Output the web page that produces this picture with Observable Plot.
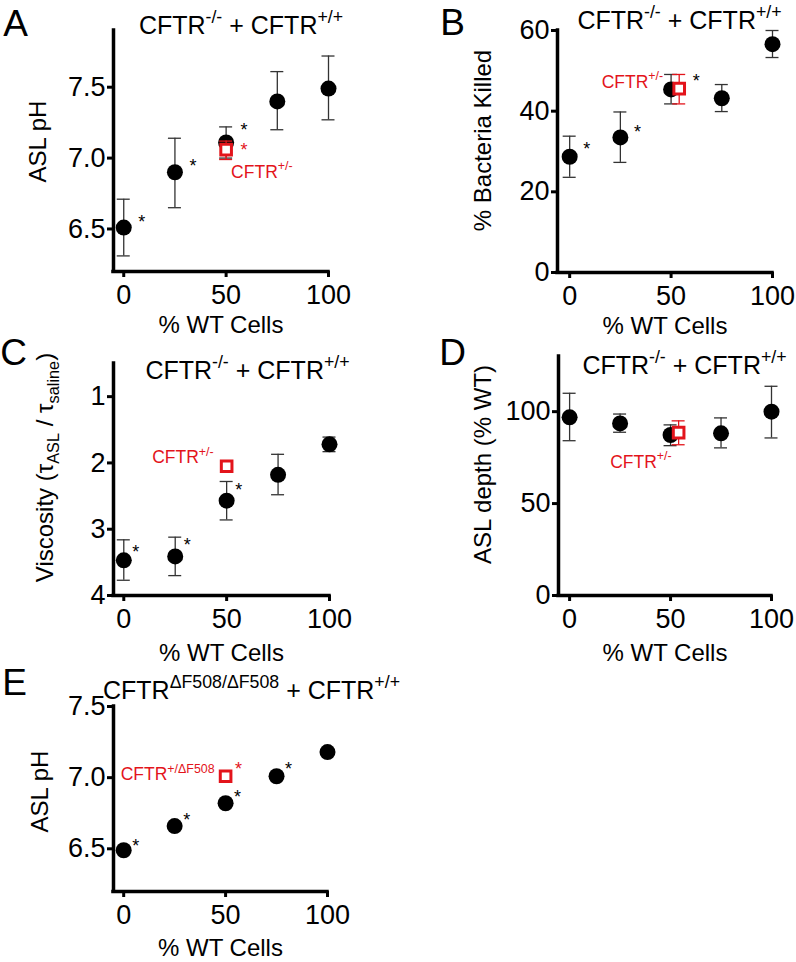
<!DOCTYPE html>
<html><head><meta charset="utf-8">
<script src="https://cdn.jsdelivr.net/npm/d3@7"></script>
<script src="https://cdn.jsdelivr.net/npm/@observablehq/plot@0.6"></script>
<style>
body{margin:0;background:#fff;}
#fig{position:relative;width:796px;height:962px;overflow:hidden;background:#fff;}
</style>
</head><body><div id="fig"></div>
<script>
// ---------- data ----------
const pctWT = [0, 25, 50, 75, 100];
const xTickVals = [0, 50, 100];
const xLabel = "% WT Cells";
const titleNull = "CFTR^{-/-} + CFTR^{+/+}";
const titleDF = "CFTR^{ΔF508/ΔF508} + CFTR^{+/+}";
const hetLabel = "CFTR^{+/-}";
const hetDFLabel = "CFTR^{+/ΔF508}";

// A: ASL pH
const aMean = [6.51, 6.90, 7.11, 7.40, 7.49];
const aLo   = [6.31, 6.65, 7.00, 7.20, 7.27];
const aHi   = [6.71, 7.14, 7.22, 7.61, 7.72];
const aStar = [true, true, true, false, false];
const aHetX = [50], aHetMean = [7.06], aHetLo = [6.99], aHetHi = [7.12];
const aYTicks = [6.5, 7.0, 7.5];

// B: % bacteria killed
const bMean = [28.7, 33.5, 45.4, 43.2, 56.6];
const bLo   = [23.6, 27.3, 41.8, 39.9, 53.3];
const bHi   = [33.8, 39.8, 49.1, 46.6, 60.0];
const bStar = [true, true, false, false, false];
const bHetX = [54], bHetMean = [45.6], bHetLo = [41.8], bHetHi = [49.1];
const bYTicks = [0, 20, 40, 60];

// C: viscosity
const cMean = [3.47, 3.41, 2.57, 2.18, 1.72];
const cLo   = [3.77, 3.70, 2.86, 2.48, 1.83];
const cHi   = [3.16, 3.12, 2.28, 1.87, 1.61];
const cStar = [true, true, true, false, false];
const cHetX = [50], cHetMean = [2.05];
const cYTicks = [1, 2, 3, 4];

// D: ASL depth
const dMean = [96.9, 93.6, 87.3, 88.2, 100.0];
const dLo   = [84.2, 88.8, 81.5, 80.3, 85.7];
const dHi   = [110.0, 98.7, 92.8, 96.6, 113.8];
const dHetX = [54], dHetMean = [88.6], dHetLo = [82.0], dHetHi = [95.0];
const dYTicks = [0, 50, 100];

// E: ASL pH, ΔF508
const eMean = [6.49, 6.66, 6.82, 7.01, 7.18];
const eStar = [true, true, true, true, false];
const eHetX = [50], eHetMean = [7.01];
const eYTicks = [6.5, 7.0, 7.5];

// ---------- styling ----------
const FONT = "'Liberation Sans', Arial, Helvetica, sans-serif";
const RED = "#e3141b";
const BAR = "#333";

function richify(svg) {
  d3.select(svg).selectAll("text").each(function () {
    const s = this.textContent;
    if (!/[\^_]\{/.test(s)) return;
    const fs = parseFloat(getComputedStyle(this).fontSize) || 16;
    const parts = s.split(/([\^_]\{[^}]*\})/).filter(p => p.length);
    while (this.firstChild) this.removeChild(this.firstChild);
    let cur = 0;
    for (const p of parts) {
      const t = document.createElementNS("http://www.w3.org/2000/svg", "tspan");
      let target = 0, content = p, size = fs;
      if (p.startsWith("^{")) { target = -0.42 * fs; content = p.slice(2, -1); size = 0.71 * fs; }
      else if (p.startsWith("_{")) { target = 0.26 * fs; content = p.slice(2, -1); size = 0.68 * fs; }
      t.setAttribute("dy", target - cur);
      t.setAttribute("font-size", size);
      t.textContent = content;
      cur = target;
      this.appendChild(t);
    }
  });
}

function build(cfg) {
  const rows = cfg.x.map((x, i) => ({x, y: cfg.mean[i], lo: cfg.lo ? cfg.lo[i] : null, hi: cfg.hi ? cfg.hi[i] : null, star: cfg.star ? cfg.star[i] : false, i}));
  const het = cfg.hetX.map((x, i) => ({x, y: cfg.hetMean[i], lo: cfg.hetLo ? cfg.hetLo[i] : null, hi: cfg.hetHi ? cfg.hetHi[i] : null}));
  const yBase = cfg.yReverse ? cfg.yDomain[1] : cfg.yDomain[0];
  const marks = [
    Plot.ruleX([cfg.xDomain[0]], {stroke: "black", strokeWidth: 3.5, strokeLinecap: "square"}),
    Plot.ruleY([yBase], {stroke: "black", strokeWidth: 3.5, strokeLinecap: "square"}),
    Plot.axisX({ticks: xTickVals, tickSize: 6, tickPadding: 7, strokeWidth: 3, fontSize: 27, label: null}),
    Plot.axisY({ticks: cfg.yTicks, tickSize: 6, tickPadding: 2, strokeWidth: 3, fontSize: 27, label: null, tickFormat: cfg.yFormat})
  ];
  if (cfg.lo) {
    marks.push(
      Plot.ruleX(rows, {x: "x", y1: "lo", y2: "hi", stroke: BAR, strokeWidth: 1.3}),
      Plot.ruleY(rows, {y: "hi", x1: "x", x2: "x", insetLeft: -6.5, insetRight: -6.5, stroke: BAR, strokeWidth: 1.3}),
      Plot.ruleY(rows, {y: "lo", x1: "x", x2: "x", insetLeft: -6.5, insetRight: -6.5, stroke: BAR, strokeWidth: 1.3})
    );
  }
  marks.push(Plot.dot(rows, {x: "x", y: "y", r: 8, fill: "black", stroke: "none"}));
  if (cfg.hetLo) {
    marks.push(
      Plot.ruleX(het, {x: "x", y1: "lo", y2: "hi", stroke: RED, strokeWidth: 1.3}),
      Plot.ruleY(het, {y: "hi", x1: "x", x2: "x", insetLeft: -6.5, insetRight: -6.5, stroke: RED, strokeWidth: 1.3}),
      Plot.ruleY(het, {y: "lo", x1: "x", x2: "x", insetLeft: -6.5, insetRight: -6.5, stroke: RED, strokeWidth: 1.3})
    );
  }
  marks.push(Plot.dot(het, {x: "x", y: "y", symbol: "square", r: 6, stroke: RED, strokeWidth: 3, fill: "white"}));
  // significance stars
  rows.filter(d => d.star).forEach((d, k) => {
    marks.push(Plot.text([d], {x: "x", y: "y", text: () => "*", dx: cfg.starDx, dy: cfg.starDy[k], fontSize: 18, lineAnchor: "bottom", textAnchor: "middle", fill: "black"}));
  });
  if (cfg.hetStar) {
    marks.push(Plot.text(het, {x: "x", y: "y", text: () => "*", dx: cfg.hetStar.dx, dy: cfg.hetStar.dy, fontSize: 18, lineAnchor: "bottom", textAnchor: "middle", fill: cfg.hetStar.color}));
  }
  // het label
  marks.push(Plot.text(het, {x: "x", y: "y", text: () => cfg.hetText, dx: cfg.hetLab.dx, dy: cfg.hetLab.dy, textAnchor: cfg.hetLab.anchor, lineAnchor: "bottom", fontSize: 17.5, fill: RED}));
  // title, panel letter, axis labels
  marks.push(
    Plot.text([cfg.title], {text: d => d, frameAnchor: "top", dx: cfg.titlePos.dx, dy: cfg.titlePos.dy, lineAnchor: "bottom", textAnchor: "middle", fontSize: 25, fill: "black"}),
    Plot.text([cfg.letter], {text: d => d, frameAnchor: "top-left", dx: cfg.letterPos.dx, dy: cfg.letterPos.dy, lineAnchor: "bottom", textAnchor: "middle", fontSize: 37, fill: "black"}),
    Plot.text([xLabel], {text: d => d, frameAnchor: "bottom", dy: cfg.xlabDy, lineAnchor: "bottom", textAnchor: "middle", fontSize: 24, fill: "black"}),
    Plot.text([cfg.ylabel], {text: d => d, frameAnchor: "left", dx: cfg.ylabPos.dx, dy: cfg.ylabPos.dy, rotate: -90, lineAnchor: "middle", textAnchor: "middle", fontSize: 24, fill: "black"})
  );
  const svg = Plot.plot({
    width: cfg.width, height: cfg.height,
    marginLeft: cfg.mL, marginRight: cfg.mR, marginTop: cfg.mT, marginBottom: cfg.mB,
    x: {domain: cfg.xDomain},
    y: {domain: cfg.yDomain, reverse: !!cfg.yReverse},
    style: {background: "transparent", fontFamily: FONT, overflow: "visible", color: "black"},
    marks
  });
  svg.style.position = "absolute";
  svg.style.left = cfg.left + "px";
  svg.style.top = cfg.top + "px";
  svg.style.maxWidth = "none";
  document.getElementById("fig").appendChild(svg);
  richify(svg);
}

build({
  left: 0, top: 0, width: 398, height: 340, mL: 113, mR: 70, mT: 30, mB: 69,
  xDomain: [-5, 100], yDomain: [6.2, 7.9], yTicks: aYTicks, yFormat: ".1f",
  x: pctWT, mean: aMean, lo: aLo, hi: aHi, star: aStar,
  hetX: aHetX, hetMean: aHetMean, hetLo: aHetLo, hetHi: aHetHi,
  hetText: hetLabel, hetLab: {anchor: "start", dx: 5, dy: 28},
  starDx: 18, starDy: [0, 0, -6], hetStar: {dx: 18, dy: 6, color: RED},
  title: titleNull, titlePos: {dx: 20, dy: 3},
  letter: "A", letterPos: {dx: -98, dy: 5},
  ylabel: "ASL pH", ylabPos: {dx: -75, dy: -9.5}, xlabDy: 61
});
build({
  left: 400, top: 0, width: 396, height: 340, mL: 157, mR: 24, mT: 30, mB: 68,
  xDomain: [-6, 100], yDomain: [0, 60], yTicks: bYTicks, yFormat: "d",
  x: pctWT, mean: bMean, lo: bLo, hi: bHi, star: bStar,
  hetX: bHetX, hetMean: bHetMean, hetLo: bHetLo, hetHi: bHetHi,
  hetText: hetLabel, hetLab: {anchor: "end", dx: -16, dy: -1},
  starDx: 17, starDy: [-2, 1], hetStar: {dx: 17, dy: -2, color: "black"},
  title: titleNull, titlePos: {dx: 14.5, dy: -2},
  letter: "B", letterPos: {dx: -105, dy: 4},
  ylabel: "% Bacteria Killed", ylabPos: {dx: -74, dy: -11}, xlabDy: 61
});
build({
  left: 0, top: 330, width: 398, height: 335, mL: 113, mR: 69, mT: 33, mB: 70,
  xDomain: [-5, 100], yDomain: [0.5, 4], yReverse: true, yTicks: cYTicks, yFormat: "d",
  x: pctWT, mean: cMean, lo: cLo, hi: cHi, star: cStar,
  hetX: cHetX, hetMean: cHetMean,
  hetText: hetLabel, hetLab: {anchor: "end", dx: -13, dy: -3},
  starDx: 12, starDy: [-2, -5, -5],
  title: titleNull, titlePos: {dx: 26, dy: 15},
  letter: "C", letterPos: {dx: -100, dy: 1},
  ylabel: "Viscosity (τ_{ASL} / τ_{saline})", ylabPos: {dx: -68, dy: -12}, xlabDy: 65
});
build({
  left: 400, top: 330, width: 396, height: 335, mL: 158, mR: 25, mT: 26, mB: 70,
  xDomain: [-5.5, 100], yDomain: [0, 130], yTicks: dYTicks, yFormat: "d",
  x: pctWT, mean: dMean, lo: dLo, hi: dHi,
  hetX: dHetX, hetMean: dHetMean, hetLo: dHetLo, hetHi: dHetHi,
  hetText: hetLabel, hetLab: {anchor: "end", dx: -7, dy: 35},
  starDx: 12, starDy: [],
  title: titleNull, titlePos: {dx: 19.5, dy: 17},
  letter: "D", letterPos: {dx: -106, dy: 8},
  ylabel: "ASL depth (% WT)", ylabPos: {dx: -75, dy: -11.5}, xlabDy: 65
});
build({
  left: 0, top: 650, width: 398, height: 312, mL: 113, mR: 71, mT: 56, mB: 71,
  xDomain: [-5, 100], yDomain: [6.2, 7.5], yTicks: eYTicks, yFormat: ".1f",
  x: pctWT, mean: eMean, star: eStar,
  hetX: eHetX, hetMean: eHetMean,
  hetText: hetDFLabel, hetLab: {anchor: "end", dx: -11, dy: 4},
  starDx: 12, starDy: [2, 0, 0, -1], hetStar: {dx: 13, dy: -1, color: RED},
  title: titleDF, titlePos: {dx: 31, dy: -8},
  letter: "E", letterPos: {dx: -99, dy: -12},
  ylabel: "ASL pH", ylabPos: {dx: -73, dy: -7.5}, xlabDy: 64
});
</script>
</body></html>
